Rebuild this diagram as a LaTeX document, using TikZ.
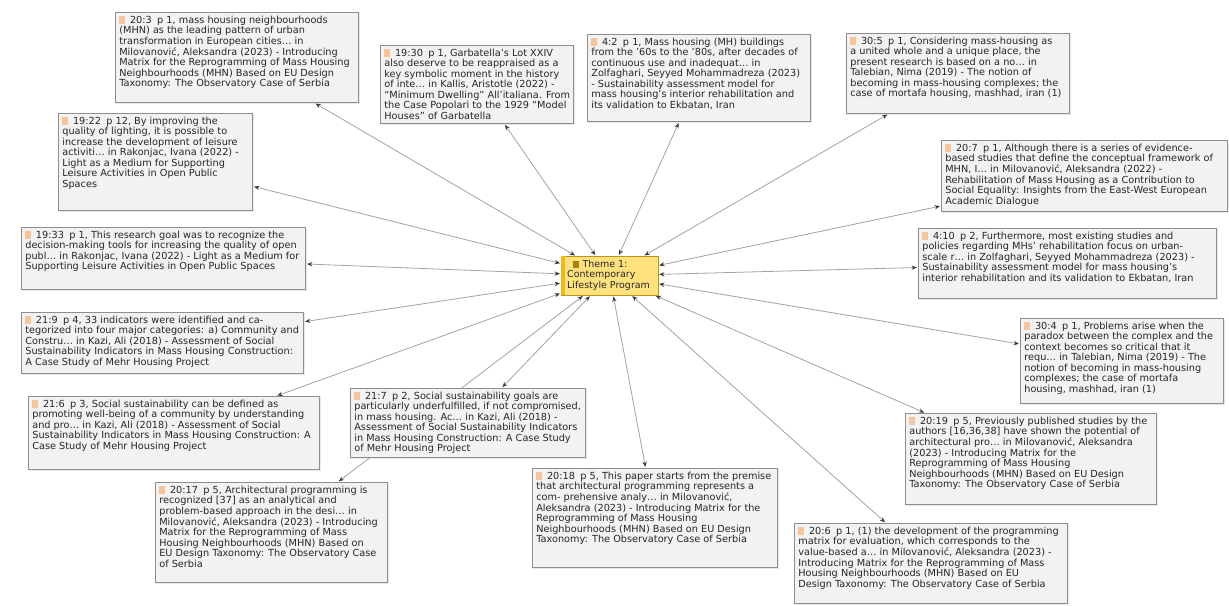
\documentclass[tikz,border=0pt]{standalone}
\usepackage{fontspec}
\setmainfont{DejaVu Sans}
\usetikzlibrary{arrows.meta,shadows}
\pgfdeclarelayer{bg}
\pgfsetlayers{bg,main}
\definecolor{notefill}{HTML}{F2F2F2}
\definecolor{noteline}{HTML}{8E8E8E}
\definecolor{iconc}{HTML}{F7C59B}
\definecolor{themefill}{HTML}{FFE27D}
\definecolor{themebar}{HTML}{EDB91A}
\definecolor{linkc}{HTML}{A3A3A3}
\definecolor{tipc}{HTML}{3A3A3A}
\newcommand\qico{{\color{iconc}\rule[-0.4pt]{4.5pt}{5.5pt}}\hspace{3.5pt}}
\newcommand\pid[1]{\qico #1\hspace{4pt}}
\newcommand\notebox[6]{%
  \pgfmathsetlengthmacro\nbw{#4*0.75-6.5}%
  \pgfmathsetlengthmacro\nbh{#5*0.75-5.5}%
  \node[note] (#1) at (#2,#3) {\parbox[t][\nbh][t]{\nbw}{\begin{tabular}[t]{@{}l@{}}#6\end{tabular}}};}
\tikzset{
  note/.style={draw=noteline, fill=notefill, line width=0.5pt, inner xsep=3pt, inner ysep=2.5pt,
    anchor=north west, font=\fontsize{7.3}{7.9}\selectfont, text=black!85,
    drop shadow={opacity=0.18, shadow xshift=0.8pt, shadow yshift=-0.8pt}},
  theme/.style={draw=themebar!80!black, line width=0.3pt, fill=themefill, anchor=north west,
    inner xsep=4.5pt, inner ysep=0pt, minimum height=29.25pt,
    font=\fontsize{7.1}{7.8}\selectfont, text=black!85},
  link/.style={draw=linkc, line width=0.6pt,
    arrows={Stealth[length=4pt,width=3.2pt,color=tipc]-Stealth[length=4pt,width=3.2pt,color=tipc]},
    shorten <=0.8pt, shorten >=0.8pt}
}
\begin{document}
\begin{tikzpicture}[x=0.75pt,y=-0.75pt]
\begin{pgfonlayer}{bg}
\fill[white] (0,0) rectangle (1229,606);
\end{pgfonlayer}
\useasboundingbox (0,0) rectangle (1229,606);

% central theme
\node[theme] (ctr) at (561,256) {\parbox{63.5pt}{\begin{tabular}{@{}l@{}}\hspace{4pt}{\color{themebar!70!black}\rule[-0.4pt]{4.5pt}{5.5pt}}\hspace{3pt}Theme 1:\\Contemporary\\Lifestyle Program\end{tabular}}};
\fill[themebar] (ctr.north west) rectangle ([xshift=3.2pt]ctr.south west);

\notebox{n203}{115}{12}{244}{91}{\pid{20:3}p 1, mass housing neighbourhoods\\(MHN) as the leading pattern of urban\\transformation in European cities… in\\Milovanović, Aleksandra (2023) - Introducing\\Matrix for the Reprogramming of Mass Housing\\Neighbourhoods (MHN) Based on EU Design\\Taxonomy: The Observatory Case of Serbia}

\notebox{n1930}{380}{45}{194}{79}{\pid{19:30}p 1, Garbatella's Lot XXIV\\also deserve to be reappraised as a\\key symbolic moment in the history\\of inte… in Kallis, Aristotle (2022) -\\“Minimum Dwelling” All'italiana. From\\the Case Popolari to the 1929 “Model\\Houses” of Garbatella}

\notebox{n42}{587}{34}{224}{88}{\pid{4:2}p 1, Mass housing (MH) buildings\\from the '60s to the '80s, after decades of\\continuous use and inadequat… in\\Zolfaghari, Seyyed Mohammadreza (2023)\\- Sustainability assessment model for\\mass housing's interior rehabilitation and\\its validation to Ekbatan, Iran}

\notebox{n305}{846}{33}{224}{81}{\pid{30:5}p 1, Considering mass-housing as\\a united whole and a unique place, the\\present research is based on a no… in\\Talebian, Nima (2019) - The notion of\\becoming in mass-housing complexes; the\\case of mortafa housing, mashhad, iran (1)}

\notebox{n207}{941}{140}{287}{72}{\pid{20:7}p 1, Although there is a series of evidence-\\based studies that define the conceptual framework of\\MHN, I… in Milovanović, Aleksandra (2022) -\\Rehabilitation of Mass Housing as a Contribution to\\Social Equality: Insights from the East-West European\\Academic Dialogue}

\notebox{n410}{918}{228}{299}{71}{\pid{4:10}p 2, Furthermore, most existing studies and\\policies regarding MHs' rehabilitation focus on urban-\\scale r… in Zolfaghari, Seyyed Mohammadreza (2023) -\\Sustainability assessment model for mass housing's\\interior rehabilitation and its validation to Ekbatan, Iran}

\notebox{n304}{1020}{318}{204}{86}{\pid{30:4}p 1, Problems arise when the\\paradox between the complex and the\\context becomes so critical that it\\requ… in Talebian, Nima (2019) - The\\notion of becoming in mass-housing\\complexes; the case of mortafa\\housing, mashhad, iran (1)}

\notebox{n2019}{905}{413}{252}{92}{\pid{20:19}p 5, Previously published studies by the\\authors [16,36,38] have shown the potential of\\architectural pro… in Milovanović, Aleksandra\\(2023) - Introducing Matrix for the\\Reprogramming of Mass Housing\\Neighbourhoods (MHN) Based on EU Design\\Taxonomy: The Observatory Case of Serbia}

\notebox{n206}{794}{523}{274}{81}{\pid{20:6}p 1, (1) the development of the programming\\matrix for evaluation, which corresponds to the\\value-based a… in Milovanović, Aleksandra (2023) -\\Introducing Matrix for the Reprogramming of Mass\\Housing Neighbourhoods (MHN) Based on EU\\Design Taxonomy: The Observatory Case of Serbia}

\notebox{n2018}{532}{468}{246}{100}{\pid{20:18}p 5, This paper starts from the premise\\that architectural programming represents a\\com- prehensive analy… in Milovanović,\\Aleksandra (2023) - Introducing Matrix for the\\Reprogramming of Mass Housing\\Neighbourhoods (MHN) Based on EU Design\\Taxonomy: The Observatory Case of Serbia}

\notebox{n2017}{155}{482}{233}{101}{\pid{20:17}p 5, Architectural programming is\\recognized [37] as an analytical and\\problem-based approach in the desi… in\\Milovanović, Aleksandra (2023) - Introducing\\Matrix for the Reprogramming of Mass\\Housing Neighbourhoods (MHN) Based on\\EU Design Taxonomy: The Observatory Case\\of Serbia}

\notebox{n216}{28}{396}{292}{74}{\pid{21:6}p 3, Social sustainability can be defined as\\promoting well-being of a community by understanding\\and pro… in Kazi, Ali (2018) - Assessment of Social\\Sustainability Indicators in Mass Housing Construction: A\\Case Study of Mehr Housing Project}

\notebox{n217}{350}{388}{236}{70}{\pid{21:7}p 2, Social sustainability goals are\\particularly underfulfilled, if not compromised,\\in mass housing. Ac… in Kazi, Ali (2018) -\\Assessment of Social Sustainability Indicators\\in Mass Housing Construction: A Case Study\\of Mehr Housing Project}

\notebox{n1922}{58}{113}{195}{98}{\pid{19:22}p 12, By improving the\\quality of lighting, it is possible to\\increase the development of leisure\\activiti… in Rakonjac, Ivana (2022) -\\Light as a Medium for Supporting\\Leisure Activities in Open Public\\Spaces}

\notebox{n1933}{21}{227}{285}{63}{\pid{19:33}p 1, This research goal was to recognize the\\decision-making tools for increasing the quality of open\\publ… in Rakonjac, Ivana (2022) - Light as a Medium for\\Supporting Leisure Activities in Open Public Spaces}

\notebox{n219}{21}{312}{283}{62}{\pid{21:9}p 4, 33 indicators were identified and ca-\\tegorized into four major categories: a) Community and\\Constru… in Kazi, Ali (2018) - Assessment of Social\\Sustainability Indicators in Mass Housing Construction:\\A Case Study of Mehr Housing Project}

% links, drawn beneath the boxes
\begin{pgfonlayer}{bg}
\foreach \n in {n203,n1930,n42,n305,n207,n410,n304,n2019,n206,n2018,n2017,n216,n217,n1922,n1933,n219}
  \draw[link] (\n) -- (ctr);
\end{pgfonlayer}
\end{tikzpicture}
\end{document}
